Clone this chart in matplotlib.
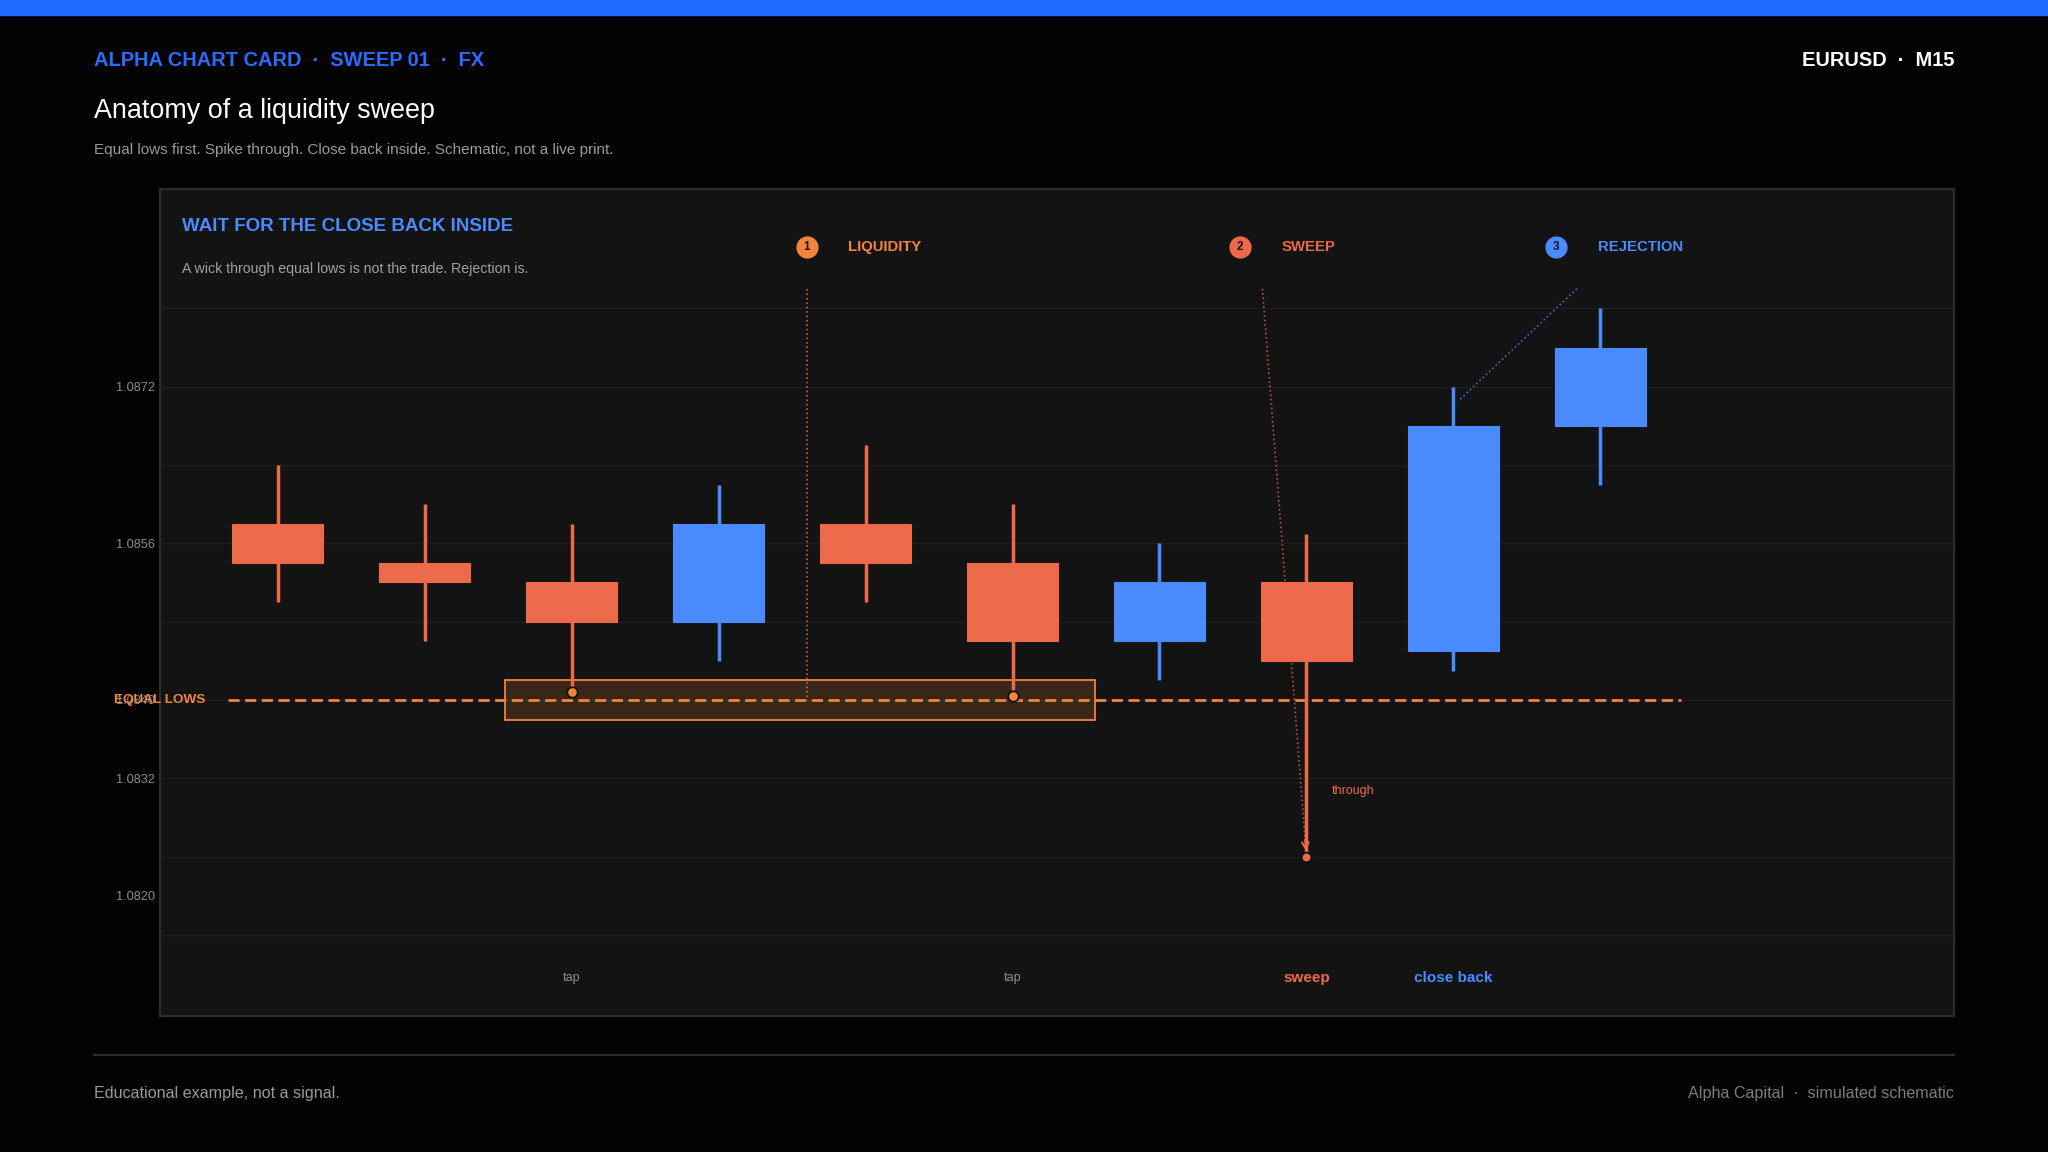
import matplotlib
matplotlib.use("Agg")
import matplotlib.pyplot as plt
from matplotlib.patches import Rectangle
from matplotlib.ticker import FixedLocator
import numpy as np

# EURUSD M15, schematic candles (oldest -> newest)
opens = [1.0858, 1.0854, 1.0852, 1.0848, 1.0858, 1.0854, 1.0846, 1.0852, 1.0845, 1.0868]
highs = [1.0864, 1.0860, 1.0858, 1.0862, 1.0866, 1.0860, 1.0856, 1.0857, 1.0872, 1.0880]
lows = [1.0850, 1.0846, 1.08408, 1.0844, 1.0850, 1.08404, 1.0842, 1.0824, 1.0843, 1.0862]
closes = [1.0854, 1.0852, 1.0848, 1.0858, 1.0854, 1.0846, 1.0852, 1.0844, 1.0868, 1.0876]

equal_lows = 1.0840
level_span = (-0.34, 9.55)
zone_span = (1.55, 5.56)
zone_band = (1.0838, 1.0842)

tap_idx = [2, 5]
sweep_idx = 7

step_names = ["LIQUIDITY", "SWEEP", "REJECTION"]
step_x = [3.6, 6.55, 8.7]
step_y = 1.08863
pointer_start = [(3.6, 1.0882), (6.7, 1.0882), (8.84, 1.0882)]
pointer_end = [(3.6, 1.0840), (7.0, 1.0824), (8.03, 1.08705)]

through_pos = (7.17, 1.08307)

bottom_labels = ["tap", "tap", "sweep", "close back"]
bottom_x = [2, 5, 7, 8]
bottom_y = 1.08116

yticks = [1.0872, 1.0856, 1.0840, 1.0832, 1.0820]
grid_levels = [1.0816, 1.0824, 1.0832, 1.0840, 1.0848, 1.0856, 1.0864, 1.0872, 1.0880]

BG = "#020202"
PANEL = "#131313"
RED = "#ec694a"
BLUE = "#4a8bff"
ORANGE = "#f2843c"
HEAD_BLUE = "#2a6cff"
GREY = "#9a9a9a"

plt.rcParams["font.family"] = ["Liberation Sans", "DejaVu Sans"]

W, H = 2048, 1152
fig = plt.figure(figsize=(W / 100, H / 100), dpi=100, facecolor=BG)


def px(x, y):
    return x / W, 1 - y / H


# top accent bar
fig.patches.append(Rectangle((0, 1 - 14.5 / H), 1, 14.5 / H, transform=fig.transFigure,
                             color="#1f6bff", zorder=0))

# header
fig.text(*px(94, 65.5), "ALPHA CHART CARD  \u00b7  SWEEP 01  \u00b7  FX", color=HEAD_BLUE,
         fontsize=14.4, fontweight="bold", va="baseline", ha="left")
fig.text(*px(1954, 65.5), "EURUSD  \u00b7  M15", color="white", fontsize=14.4,
         fontweight="bold", va="baseline", ha="right")
fig.text(*px(94, 117.5), "Anatomy of a liquidity sweep", color="white", fontsize=19.4,
         va="baseline", ha="left")
fig.text(*px(94, 154), "Equal lows first. Spike through. Close back inside. Schematic, not a live print.",
         color=GREY, fontsize=11, va="baseline", ha="left")

# chart panel
left, right, top, bottom = 159.5, 1954, 189, 1016
ax = fig.add_axes([left / W, 1 - bottom / H, (right - left) / W, (bottom - top) / H])
ax.set_facecolor(PANEL)
for s in ax.spines.values():
    s.set_color("#2c2c2c")
    s.set_linewidth(1.6)
ax.set_xlim(-0.803, 11.405)
ax.set_ylim(1.080772, 1.089219)

ax.set_xticks([])
ax.set_yticks(yticks)
ax.set_yticklabels([f"{v:.4f}" for v in yticks])
ax.tick_params(axis="y", length=0, pad=3, labelsize=9.2, labelcolor="#8c8c8c")
ax.yaxis.remove_overlapping_locs = False
ax.yaxis.set_minor_locator(FixedLocator(grid_levels))
ax.tick_params(axis="y", which="minor", length=0)
ax.grid(False)
ax.grid(True, axis="y", which="minor", color="#1f1f1f", linewidth=0.9)
ax.set_axisbelow(True)

fig.text(*px(181.5, 231.3), "WAIT FOR THE CLOSE BACK INSIDE", color=BLUE, fontsize=13.5,
         fontweight="bold", va="baseline", ha="left")
fig.text(*px(181.5, 272.7), "A wick through equal lows is not the trade. Rejection is.",
         color="#a0a0a0", fontsize=10.2, va="baseline", ha="left")

# equal lows zone + level
ax.add_patch(Rectangle((zone_span[0], zone_band[0]), zone_span[1] - zone_span[0],
                       zone_band[1] - zone_band[0], facecolor=ORANGE, alpha=0.17,
                       edgecolor="none", zorder=2))
ax.add_patch(Rectangle((zone_span[0], zone_band[0]), zone_span[1] - zone_span[0],
                       zone_band[1] - zone_band[0], facecolor="none", edgecolor=ORANGE,
                       linewidth=1.3, zorder=2))
ax.plot(level_span, [equal_lows, equal_lows], color=ORANGE, linewidth=2.0,
        dashes=(4, 2), zorder=3)
ax.text(-0.49, equal_lows, "EQUAL LOWS", color=ORANGE, fontsize=9.7, fontweight="bold",
        ha="right", va="center", clip_on=False, zorder=6)

# candles
x = np.arange(len(opens))
colors = [BLUE if c > o else RED for o, c in zip(opens, closes)]
ax.vlines(x, lows, highs, colors=colors, linewidth=2.5, zorder=4)
body_lo = [min(o, c) for o, c in zip(opens, closes)]
body_h = [abs(c - o) for o, c in zip(opens, closes)]
ax.bar(x, body_h, bottom=body_lo, width=0.615, color=colors, edgecolor=colors,
       linewidth=0.8, zorder=5)

# tap dots and sweep low
ax.plot([x[i] for i in tap_idx], [lows[i] for i in tap_idx], "o", ms=7.5, color=ORANGE,
        mec="#111111", mew=1.3, zorder=7)
ax.plot(x[sweep_idx], lows[sweep_idx], "o", ms=7, color=RED, mec="#111111", mew=1.3, zorder=7)

# numbered steps and pointer lines
step_colors = [ORANGE, RED, BLUE]
for i, (name, sx, c) in enumerate(zip(step_names, step_x, step_colors)):
    ax.plot(sx, step_y, "o", ms=16, color=c, mec="none", zorder=6)
    ax.text(sx, step_y, str(i + 1), color="#141414", fontsize=8.5, fontweight="bold",
            ha="center", va="center", zorder=7)
    ax.annotate(name, (sx, step_y), xytext=(30, 0), textcoords="offset points",
                color=c, fontsize=10.7, fontweight="bold", ha="left", va="center")
    (x0, y0), (x1, y1) = pointer_start[i], pointer_end[i]
    ax.plot([x0, x1], [y0, y1], linestyle=":", color=c, linewidth=1.2, alpha=0.75, zorder=3)

# arrow head at the sweep low
(x0, y0), (x1, y1) = pointer_start[1], pointer_end[1]
ax.annotate("", xy=(x1, y1), xytext=(x1 + 0.03 * (x0 - x1), y1 + 0.03 * (y0 - y1)),
            arrowprops=dict(arrowstyle="->", color=RED, lw=1.4, shrinkA=0, shrinkB=4,
                            mutation_scale=12), zorder=6)

ax.text(*through_pos, "through", color=RED, fontsize=9, ha="left", va="center")

label_styles = {"tap": ("#8c8c8c", "normal", 9), "sweep": (RED, "bold", 11),
                "close back": (BLUE, "bold", 11)}
for lab, bx in zip(bottom_labels, bottom_x):
    c, w, fs = label_styles[lab]
    ax.text(bx, bottom_y, lab, color=c, fontweight=w, fontsize=fs, ha="center", va="center")

# footer
fig.lines.append(plt.Line2D([94 / W, 1954 / W], [1 - 1055 / H, 1 - 1055 / H],
                            transform=fig.transFigure, color="#2a2a2a", linewidth=1.6))
fig.text(*px(94, 1098), "Educational example, not a signal.", color=GREY, fontsize=11.6,
         va="baseline", ha="left")
fig.text(*px(1954, 1098), "Alpha Capital  \u00b7  simulated schematic", color="#7c7c7c",
         fontsize=11.6, va="baseline", ha="right")

fig.savefig("out.png", dpi=100, facecolor=BG)
